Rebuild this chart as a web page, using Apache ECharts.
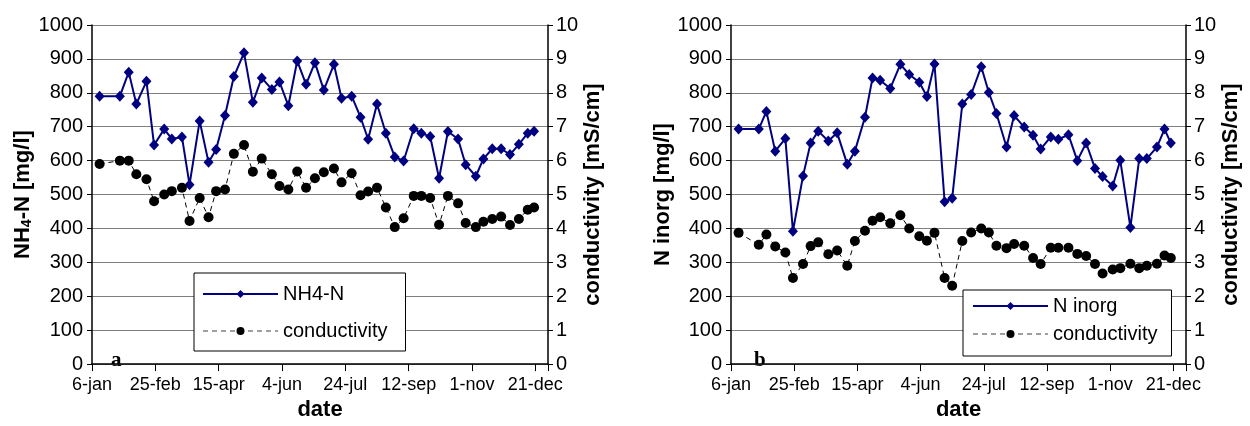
<!DOCTYPE html>
<html>
<head>
<meta charset="utf-8">
<script src="https://cdn.jsdelivr.net/npm/echarts@6/dist/echarts.min.js"></script>
<style>
  html, body { margin: 0; padding: 0; background: #fff; }
  #chart { width: 1250px; height: 426px; }
</style>
</head>
<body>
<div id="chart"></div>
<script>
// sampling days (day of year, leap year) and values
const daysA = [12, 28, 35, 41, 49, 55, 63, 69, 77, 83, 91, 98, 104, 111, 118, 126, 133, 140, 148, 154, 161, 168, 175, 182, 189, 197, 203, 211, 218, 224, 231, 238, 245, 252, 260, 266, 273, 280, 287, 295, 301, 309, 315, 322, 329, 336, 343, 350, 355];
const nh4n = [790, 790, 861, 767, 834, 646, 693, 664, 670, 529, 717, 595, 633, 733, 848, 918, 772, 844, 810, 832, 762, 894, 825, 889, 808, 884, 784, 790, 728, 663, 767, 681, 611, 599, 694, 681, 671, 548, 686, 664, 588, 554, 605, 635, 635, 618, 648, 681, 687];
const condA = [5.9, 6.0, 6.0, 5.6, 5.45, 4.8, 5.0, 5.1, 5.2, 4.22, 4.9, 4.33, 5.1, 5.15, 6.2, 6.46, 5.67, 6.06, 5.6, 5.25, 5.15, 5.68, 5.2, 5.48, 5.66, 5.77, 5.36, 5.63, 4.98, 5.09, 5.2, 4.62, 4.04, 4.3, 4.96, 4.96, 4.9, 4.11, 4.96, 4.74, 4.16, 4.04, 4.2, 4.28, 4.35, 4.1, 4.28, 4.55, 4.62];

const daysB = [12, 28, 34, 41, 49, 55, 63, 69, 75, 83, 90, 98, 104, 112, 118, 124, 132, 140, 147, 155, 161, 167, 175, 181, 189, 196, 204, 210, 216, 224, 230, 238, 245, 251, 259, 265, 273, 280, 287, 294, 300, 308, 314, 322, 329, 335, 343, 349, 354];
const ninorg = [693, 693, 745, 628, 665, 392, 555, 652, 687, 658, 682, 589, 628, 728, 844, 837, 813, 884, 854, 831, 789, 885, 479, 489, 767, 795, 877, 801, 739, 640, 733, 699, 675, 634, 670, 663, 676, 600, 652, 577, 553, 525, 601, 403, 606, 606, 640, 693, 652];
const condB = [3.87, 3.52, 3.82, 3.47, 3.29, 2.54, 2.95, 3.48, 3.59, 3.24, 3.35, 2.9, 3.63, 3.93, 4.23, 4.33, 4.15, 4.39, 4.0, 3.77, 3.64, 3.87, 2.54, 2.31, 3.63, 3.88, 4.0, 3.88, 3.49, 3.42, 3.54, 3.49, 3.13, 2.95, 3.43, 3.43, 3.43, 3.25, 3.19, 2.95, 2.67, 2.79, 2.83, 2.96, 2.83, 2.9, 2.96, 3.2, 3.13];

// x axis tick labels, every 50 days starting 6-jan
const xLabels = ['6-jan', '25-feb', '15-apr', '4-jun', '24-jul', '12-sep', '1-nov', '21-dec'];
const dayStart = 6;

const FONT = 'Liberation Sans';
const NAVY = '#000080';

// pair up x (days since 6-jan) and y
function pairs(days, vals) {
  return days.map((d, i) => [d - dayStart, vals[i]]);
}

function xAxis(gridIndex) {
  return {
    type: 'value',
    gridIndex: gridIndex,
    min: 0,
    max: 360,
    interval: 50,
    name: 'date',
    nameLocation: 'middle',
    nameGap: 31,
    nameTextStyle: { fontFamily: FONT, fontWeight: 'bold', fontSize: 22, color: '#000' },
    axisLine: { lineStyle: { color: '#000', width: 1.5 } },
    axisTick: { length: 7, lineStyle: { color: '#000' } },
    splitLine: { show: false },
    axisLabel: {
      fontFamily: FONT, fontSize: 18, color: '#000', margin: 12,
      formatter: v => xLabels[v / 50] || ''
    }
  };
}

function leftAxis(gridIndex, name) {
  return {
    type: 'value',
    gridIndex: gridIndex,
    min: 0,
    max: 1000,
    interval: 100,
    position: 'left',
    name: name,
    nameLocation: 'middle',
    nameRotate: 90,
    nameGap: 57,
    nameTextStyle: {
      fontFamily: FONT, fontWeight: 'bold', fontSize: 22, color: '#000',
      rich: {
        b: { fontFamily: FONT, fontWeight: 'bold', fontSize: 22, color: '#000' },
        s: { fontFamily: FONT, fontWeight: 'bold', fontSize: 14, color: '#000', verticalAlign: 'bottom', padding: [10, 0, 0, 0] }
      }
    },
    axisLine: { show: true, lineStyle: { color: '#000', width: 1.5 } },
    axisTick: { show: true, length: 5, lineStyle: { color: '#000' } },
    splitLine: { show: true, lineStyle: { color: '#7f7f7f', width: 1.2 } },
    axisLabel: { fontFamily: FONT, fontSize: 20, color: '#000', margin: 9, formatter: v => String(v) }
  };
}

function rightAxis(gridIndex) {
  return {
    type: 'value',
    gridIndex: gridIndex,
    min: 0,
    max: 10,
    interval: 1,
    position: 'right',
    name: 'conductivity [mS/cm]',
    nameLocation: 'middle',
    nameRotate: 90,
    nameGap: 25,
    nameTextStyle: { fontFamily: FONT, fontWeight: 'bold', fontSize: 22, color: '#000' },
    axisLine: { show: true, lineStyle: { color: '#000', width: 1.5 } },
    axisTick: { show: true, length: 5, lineStyle: { color: '#000' } },
    splitLine: { show: false },
    axisLabel: { fontFamily: FONT, fontSize: 20, color: '#000', margin: 8 }
  };
}

function legend(left, top, firstName, padding, gap) {
  return {
    orient: 'vertical',
    left: left,
    top: top,
    padding: padding,
    itemGap: gap,
    itemWidth: 75,
    itemHeight: 10,
    backgroundColor: '#fff',
    borderColor: '#000',
    borderWidth: 1,
    textStyle: { fontFamily: FONT, fontSize: 20, color: '#000', lineHeight: 20 },
    data: [
      { name: firstName, lineStyle: { width: 2 } },
      { name: 'conductivity', lineStyle: { color: '#808080', width: 1.5 } }
    ]
  };
}

function mainSeries(name, xi, yi, data) {
  return {
    name: name,
    type: 'line',
    xAxisIndex: xi,
    yAxisIndex: yi,
    data: data,
    color: NAVY,
    symbol: 'diamond',
    symbolSize: [10, 11],
    lineStyle: { width: 2, color: NAVY },
    itemStyle: { color: NAVY },
    animation: false
  };
}

function condSeries(xi, yi, data) {
  return {
    name: 'conductivity',
    type: 'line',
    xAxisIndex: xi,
    yAxisIndex: yi,
    data: data,
    color: '#000',
    symbol: 'circle',
    symbolSize: 10,
    lineStyle: { width: 1, color: '#000', type: [5, 4] },
    itemStyle: { color: '#000' },
    animation: false
  };
}

const chart = echarts.init(document.getElementById('chart'), null, { renderer: 'canvas' });

const option = {
  backgroundColor: '#fff',
  animation: false,
  grid: [
    { left: 92, top: 25, width: 456, height: 347 },
    { left: 731, top: 25, width: 455, height: 347 }
  ],
  legend: [
    legend(194, 273, 'NH4-N', [11, 18, 10, 8], 17),
    legend(963, 290, 'N inorg', [6, 14, 12, 9], 8)
  ],
  xAxis: [xAxis(0), xAxis(1)],
  yAxis: [
    leftAxis(0, '{b|NH}{s|4}{b|-N [mg/l]}'),
    rightAxis(0),
    leftAxis(1, 'N inorg [mg/l]'),
    rightAxis(1)
  ],
  // panel letters
  graphic: [
    { type: 'text', left: 111, top: 350, style: { text: 'a', font: 'bold 21px "Liberation Serif"', fill: '#000' } },
    { type: 'text', left: 754, top: 350, style: { text: 'b', font: 'bold 21px "Liberation Serif"', fill: '#000' } }
  ],
  series: [
    mainSeries('NH4-N', 0, 0, pairs(daysA, nh4n)),
    condSeries(0, 1, pairs(daysA, condA)),
    mainSeries('N inorg', 1, 2, pairs(daysB, ninorg)),
    condSeries(1, 3, pairs(daysB, condB))
  ]
};

chart.setOption(option);
</script>
</body>
</html>
